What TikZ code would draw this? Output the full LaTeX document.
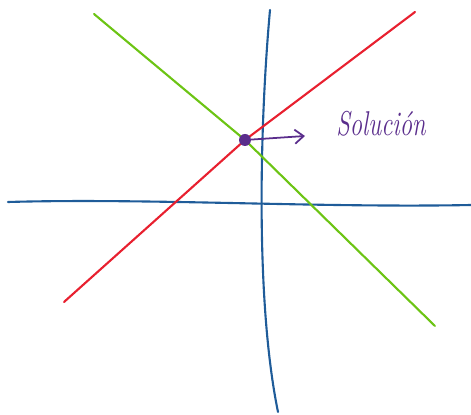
\documentclass[tikz,border=0pt]{standalone}
\usepackage{tikz}
\usetikzlibrary{positioning,arrows.meta}

\definecolor{axisblue}{HTML}{1F5C99}
\definecolor{linered}{HTML}{E8202F}
\definecolor{linegreen}{HTML}{6CC414}
\definecolor{solpurple}{HTML}{5A2D8C}

\tikzset{
  stroke/.style={line width=1.2pt, line cap=round, line join=round},
}

\begin{document}
\begin{tikzpicture}[x=0.02cm, y=-0.02cm]
\useasboundingbox (0,0) rectangle (471,415);

% ejes
\draw[stroke, axisblue] (8,202) .. controls (150,198) and (320,208) .. (471,205);
\draw[stroke, axisblue] (270,10) .. controls (260,120) and (255,300) .. (278,412);

% rectas
\draw[stroke, linered] (64,302) -- (245,140) -- (415,12);
\draw[stroke, linegreen] (94,14) -- (245,140) -- (435,326);

% solucion
\node[circle, fill=solpurple, inner sep=0pt, minimum size=0.24cm] (sol) at (245,140) {};
\coordinate (tip) at (305,136);
\draw[stroke, solpurple, line width=1pt, -{Straight Barb[length=5pt, width=8pt]}] (sol) -- (tip);
\node[solpurple, font=\fontsize{14}{16}\selectfont\itshape, yscale=1.4] (txt) at (381,124) {Solución};
\end{tikzpicture}
\end{document}
